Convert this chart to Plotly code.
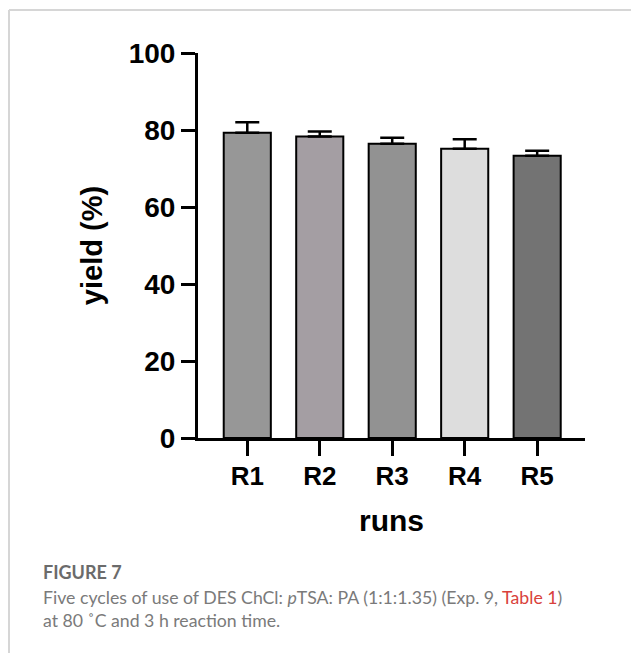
import plotly.graph_objects as go

runs = ["R1", "R2", "R3", "R4", "R5"]
yield_pct = [79.3, 78.3, 76.4, 75.1, 73.3]
yield_err = [2.7, 1.3, 1.6, 2.5, 1.3]
bar_colors = ["#979797", "#a49ea3", "#929292", "#dddddd", "#737373"]
y_ticks = [0, 20, 40, 60, 80, 100]

# page body has an 8px default margin; work in screen pixels and shift
OFF = 8
W, H = 639 - OFF, 653 - OFF
L, R, T, B = 198 - OFF, 639 - 585, 53 - OFF, 653 - 438
PW, PH = W - L - R, H - T - B

def px(x):
    return (x - OFF - L) / PW

def py(y):
    return (H - B - (y - OFF)) / PH

fig = go.Figure()
fig.add_trace(go.Bar(
    x=list(range(len(runs))),
    y=yield_pct,
    width=0.65,
    marker=dict(color=bar_colors, line=dict(color="black", width=2)),
    error_y=dict(type="data", symmetric=False, array=yield_err,
                 arrayminus=[0] * len(yield_err),
                 color="black", thickness=2.5, width=12),
    showlegend=False,
))

bold = dict(family="Liberation Sans, Arial, sans-serif", color="black", weight="bold")

fig.update_layout(
    width=W, height=H,
    margin=dict(l=L, r=R, t=T, b=B, pad=0),
    paper_bgcolor="white", plot_bgcolor="white",
    xaxis=dict(
        range=[-0.68, 4.66],
        tickmode="array", tickvals=list(range(len(runs))), ticktext=runs,
        showline=True, linecolor="black", linewidth=3,
        ticks="outside", ticklen=15, tickwidth=3, tickcolor="black",
        tickfont=dict(size=26, **bold),
        ticklabelstandoff=-2,
        showgrid=False, zeroline=False,
        title=dict(text="runs", font=dict(size=30, **bold), standoff=20),
    ),
    yaxis=dict(
        range=[0, 100],
        tickmode="array", tickvals=y_ticks,
        showline=True, linecolor="black", linewidth=3,
        ticks="outside", ticklen=14, tickwidth=3, tickcolor="black",
        tickfont=dict(size=28, **bold),
        showgrid=False, zeroline=False,
        title=dict(text="yield (%)", font=dict(size=29, **bold), standoff=18),
    ),
    font=dict(family="Liberation Sans, Arial, sans-serif"),
)

# page frame lines
fig.add_shape(type="line", xref="paper", yref="paper",
              x0=px(9), x1=px(639), y0=py(10), y1=py(10),
              line=dict(color="#d6d6d6", width=2))
fig.add_shape(type="line", xref="paper", yref="paper",
              x0=px(9), x1=px(9), y0=py(10), y1=py(653),
              line=dict(color="#d6d6d6", width=2))

cap_font = dict(family="Lato, Open Sans, sans-serif", color="#7a7a7a", size=17.7)
fig.add_annotation(xref="paper", yref="paper", x=px(41), y=py(572),
                   xanchor="left", yanchor="middle", showarrow=False,
                   text="FIGURE 7",
                   font=dict(family="Lato, Open Sans, sans-serif", color="#6b6b6b",
                             size=18, weight="bold"))
fig.add_annotation(xref="paper", yref="paper", x=px(41), y=py(597),
                   xanchor="left", yanchor="middle", showarrow=False,
                   text="Five cycles of use of DES ChCl: <i>p</i>TSA: PA (1:1:1.35) (Exp. 9, "
                        "<span style='color:#d9413b'>Table 1</span>)",
                   font=cap_font)
fig.add_annotation(xref="paper", yref="paper", x=px(41), y=py(620),
                   xanchor="left", yanchor="middle", showarrow=False,
                   text="at 80 ˚C and 3 h reaction time.",
                   font=cap_font)

fig.write_html("out.html")
